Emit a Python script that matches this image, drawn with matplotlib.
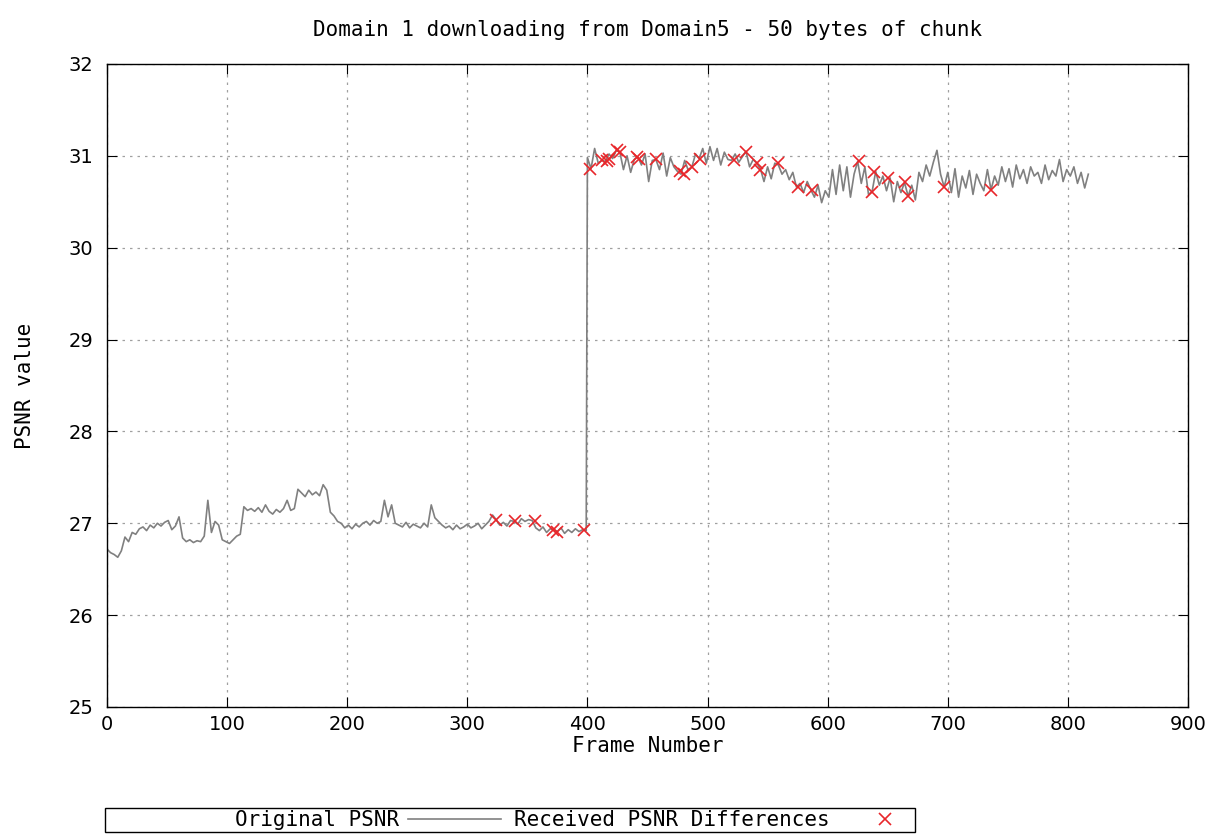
#
# PSNR per frame for domain 1 downloading from domain 5 (50 byte chunks)
# gnuplot-like look: gray line, red crosses where received PSNR differs
#

import numpy as np
import matplotlib
matplotlib.use('Agg')
import matplotlib.pyplot as plt
from matplotlib.patches import Rectangle

MONO = 'DejaVu Sans Mono'
FS = 15

# frame numbers of the sampled points (every 3rd frame)
frames_a = np.arange(0, 400, 3)
frames_b = np.arange(400, 818, 3)

# original PSNR, first part (frames 0..399)
psnr_a = [26.72, 26.68, 26.66, 26.63, 26.70,
          26.85, 26.80, 26.90, 26.88, 26.94,
          26.96, 26.92, 26.98, 26.95, 27.00,
          26.97, 27.01, 27.03, 26.93, 26.97,
          27.07, 26.84, 26.80, 26.82, 26.79,
          26.81, 26.80, 26.86, 27.25, 26.90,
          27.02, 26.98, 26.82, 26.80, 26.78,
          26.82, 26.86, 26.88, 27.18, 27.14,
          27.16, 27.13, 27.17, 27.12, 27.20,
          27.13, 27.10, 27.15, 27.12, 27.16,
          27.25, 27.14, 27.16, 27.37, 27.33,
          27.29, 27.36, 27.31, 27.34, 27.30,
          27.42, 27.36, 27.12, 27.08, 27.02,
          27.00, 26.95, 26.98, 26.94, 26.99,
          26.96, 27.00, 27.02, 26.98, 27.03,
          27.00, 27.02, 27.25, 27.07, 27.20,
          27.00, 26.98, 26.96, 27.01, 26.95,
          26.99, 26.97, 26.95, 27.00, 26.96,
          27.20, 27.06, 27.02, 26.98, 26.95,
          26.97, 26.93, 26.98, 26.94, 26.96,
          26.99, 26.95, 26.97, 27.00, 26.94,
          26.98, 27.02, 27.09, 27.04, 26.98,
          27.01, 26.97, 27.03, 27.02, 26.99,
          27.05, 27.02, 27.04, 27.03, 26.95,
          26.92, 26.96, 26.90, 26.94, 26.93,
          26.91, 26.95, 26.89, 26.93, 26.90,
          26.94, 26.91, 26.93, 26.92]

# original PSNR, second part (frames 400..817)
psnr_b = [30.98, 30.86, 31.08, 30.92, 30.95,
          30.94, 31.02, 30.97, 31.06, 31.04,
          30.85, 31.00, 30.82, 30.96, 30.99,
          30.90, 31.02, 30.72, 30.95, 30.96,
          30.85, 31.03, 30.78, 30.98, 30.88,
          30.83, 30.80, 30.95, 30.84, 30.88,
          31.02, 30.97, 31.08, 30.92, 31.10,
          30.95, 31.08, 30.90, 31.04, 30.96,
          30.95, 31.02, 30.93, 30.99, 31.05,
          30.88, 30.96, 30.92, 30.86, 30.72,
          30.88, 30.75, 30.92, 30.90, 30.80,
          30.85, 30.74, 30.82, 30.66, 30.70,
          30.60, 30.72, 30.63, 30.55, 30.68,
          30.49, 30.62, 30.55, 30.85, 30.58,
          30.90, 30.62, 30.88, 30.55, 30.80,
          30.94, 30.70, 30.88, 30.58, 30.61,
          30.83, 30.68, 30.78, 30.62, 30.76,
          30.50, 30.72, 30.60, 30.71, 30.56,
          30.68, 30.52, 30.82, 30.72, 30.90,
          30.78, 30.93, 31.06, 30.80, 30.66,
          30.82, 30.60, 30.86, 30.55, 30.78,
          30.65, 30.84, 30.58, 30.80, 30.70,
          30.62, 30.85, 30.63, 30.78, 30.68,
          30.88, 30.72, 30.86, 30.66, 30.90,
          30.75, 30.85, 30.70, 30.88, 30.78,
          30.82, 30.70, 30.90, 30.74, 30.84,
          30.78, 30.96, 30.72, 30.85, 30.78,
          30.88, 30.70, 30.82, 30.65, 30.80]

# frames where the received PSNR differs, and its value
diff_frames = [324, 340, 356, 371, 375, 397,
               402, 412, 416, 418, 425, 427, 441, 443, 457, 477, 480,
               487, 494, 522, 532, 541, 544, 559, 575, 587, 626, 637,
               639, 650, 664, 667, 697, 736]
diff_psnr = [27.04, 27.02, 27.03, 26.93, 26.91, 26.93,
             30.86, 30.95, 30.94, 30.97, 31.06, 31.04, 30.99, 30.97, 30.96, 30.83, 30.80,
             30.88, 30.97, 30.95, 31.04, 30.92, 30.85, 30.92, 30.66, 30.63, 30.94, 30.61,
             30.82, 30.76, 30.71, 30.56, 30.66, 30.63]

frames = np.concatenate([frames_a, frames_b])
psnr = psnr_a + psnr_b

fig = plt.figure(figsize=(12.25, 8.35), dpi=100)
ax = fig.add_axes([0.0873, 0.1533, 0.8825, 0.7701])

line, = ax.plot(frames, psnr, color='#808080', linewidth=1.2, label='Original PSNR')
pts, = ax.plot(diff_frames, diff_psnr, linestyle='none', marker='x', markersize=8,
               markeredgewidth=1.2, color='#e8262a', label='Received PSNR Differences')

ax.set_xlim(0, 900)
ax.set_ylim(25, 32)
ax.set_xticks(np.arange(0, 901, 100))
ax.set_yticks(np.arange(25, 33, 1))

ax.grid(True, linestyle=(0, (2, 4)), color='#a0a0a0', linewidth=0.9)
ax.tick_params(direction='in', length=7, top=True, right=True, labelsize=14, pad=6)
ax.tick_params(axis='y', pad=10)
for s in ax.spines.values():
    s.set_linewidth(1.0)

ax.set_title('Domain 1 downloading from Domain5 - 50 bytes of chunk',
             fontfamily=MONO, fontsize=FS, pad=20)
ax.set_xlabel('Frame Number', fontfamily=MONO, fontsize=FS, labelpad=1)
ax.set_ylabel('PSNR value', fontfamily=MONO, fontsize=FS, labelpad=24)

# gnuplot style key box under the plot
fig.patches.append(Rectangle((105 / 1225, 1 - 832 / 835), 810 / 1225, 24 / 835,
                             transform=fig.transFigure, fill=False,
                             edgecolor='black', linewidth=1.0))
leg = fig.legend(handles=[line, pts], loc='center right', ncol=2, markerfirst=False,
                 frameon=False, bbox_to_anchor=(942 / 1225, 1 - 820 / 835),
                 prop={'family': MONO, 'size': FS}, handlelength=4.5,
                 handletextpad=0.4, columnspacing=0.6, borderpad=0.0)

fig.savefig('out.png', dpi=100)
plt.close()
